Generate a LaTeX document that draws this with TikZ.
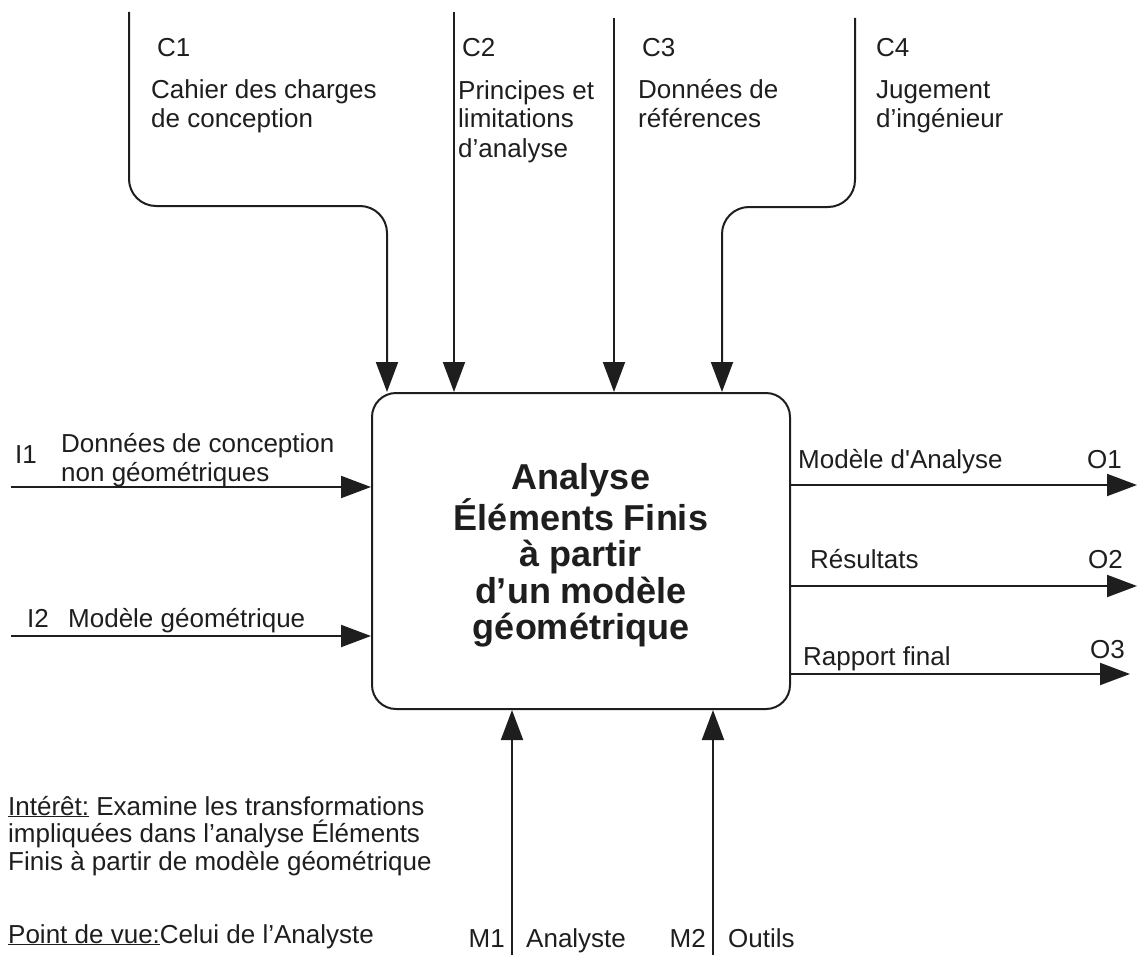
\documentclass[tikz,border=0pt]{standalone}
\usepackage{fontspec}
\setmainfont{Liberation Sans}
\usepackage{tikz}
\usetikzlibrary{positioning}
\usetikzlibrary{arrows.meta}
\usetikzlibrary{math}
\usetikzlibrary{calc}

\definecolor{ink}{HTML}{1E1E1E}

\tikzset{
  idef/.style={draw=ink, line width=2pt, -{Triangle[length=30pt,width=22pt]}},
  procbox/.style={draw=ink, line width=2pt, rounded corners=24pt,
    minimum width=418pt, minimum height=316pt, align=center, text=ink,
    font=\fontsize{36}{36.5}\selectfont\bfseries},
  lbl/.style={anchor=base west, inner sep=0pt, align=left, text=ink,
    font=\fontsize{26}{29}\selectfont},
}

\begin{document}
\begin{tikzpicture}[x=1pt,y=-1pt]

  \tikzmath{
    \bend = 27;  % radius of the bends in C1 and C4
    \base = 955; % lower edge, where M1 and M2 come in
  }

  \useasboundingbox (0,0) rectangle (1139,\base);

  % Activity box
  \node[procbox] (box) at (581,551)
    {\rule{0pt}{35pt}Analyse\\Éléments Finis\\à partir\\d’un modèle\\géométrique};

  % Controls
  \coordinate (c1top)  at (129,12);
  \coordinate (c1drop) at (387,206);
  \coordinate (c2top)  at (454,12);
  \coordinate (c3top)  at (614,18);
  \coordinate (c4top)  at (855,18);
  \coordinate (c4drop) at (722,207);

  \draw[idef, rounded corners=\bend] (c1top) -- (c1top |- c1drop) -- (c1drop)
    -- (c1drop |- box.north);
  \draw[idef] (c2top) -- (c2top |- box.north);
  \draw[idef] (c3top) -- (c3top |- box.north);
  \draw[idef, rounded corners=\bend] (c4top) -- (c4top |- c4drop) -- (c4drop)
    -- (c4drop |- box.north);

  % labels sit on the baseline of their last line
  \node[lbl] (c1id)  at (157,57)  {C1};
  \node[lbl] (c1txt) at (151,128) {Cahier des charges\\de conception};
  \node[lbl] (c2id)  at (462,57)  {C2};
  \node[lbl] (c2txt) at (458,157) {Principes et\\limitations\\d’analyse};
  \node[lbl] (c3id)  at (642,57)  {C3};
  \node[lbl] (c3txt) at (638,128) {Données de\\références};
  \node[lbl] (c4id)  at (876,57)  {C4};
  \node[lbl] (c4txt) at (876,128) {Jugement\\d’ingénieur};

  % Inputs
  \coordinate (i1start) at (11,487);
  \coordinate (i2start) at (11,636);

  \draw[idef] (i1start) -- (i1start -| box.west);
  \draw[idef] (i2start) -- (i2start -| box.west);

  \node[lbl] (i1id)  at (15,463) {I1};
  \node[lbl] (i1txt) at (61,481) {Données de conception\\non géométriques};
  \node[lbl] (i2id)  at (27,627) {I2};
  \node[lbl] (i2txt) at (68,627) {Modèle géométrique};

  % Outputs
  \coordinate (o1end) at (1137,485);
  \coordinate (o2end) at (1137,586);
  \coordinate (o3end) at (1130,674);

  \draw[idef] (o1end -| box.east) -- (o1end);
  \draw[idef] (o2end -| box.east) -- (o2end);
  \draw[idef] (o3end -| box.east) -- (o3end);

  \node[lbl] (o1txt) at (798,468) {Modèle d\textquotesingle Analyse};
  \node[lbl] (o1id)  at (1087,468) {O1};
  \node[lbl] (o2txt) at (810,568) {Résultats};
  \node[lbl] (o2id)  at (1088,568) {O2};
  \node[lbl] (o3txt) at (803,665) {Rapport final};
  \node[lbl] (o3id)  at (1090,658) {O3};

  % Mechanisms
  \coordinate (m1bot) at (512,\base);
  \coordinate (m2bot) at (713,\base);

  \draw[idef] (m1bot) -- (m1bot |- box.south);
  \draw[idef] (m2bot) -- (m2bot |- box.south);

  \node[lbl, anchor=base east] (m1id) at (505,947) {M1};
  \node[lbl] (m1txt) at (526,947) {Analyste};
  \node[lbl, anchor=base east] (m2id) at (706,947) {M2};
  \node[lbl] (m2txt) at (728,947) {Outils};

  % Notes
  \node[lbl, font=\fontsize{26}{27.5}\selectfont] (interet) at (8,870)
    {\underline{Intérêt:} Examine les transformations\\impliquées dans l’analyse Éléments\\Finis à partir de modèle géométrique};
  \node[lbl] (pdv) at (8,943) {\underline{Point de vue:}Celui de l’Analyste};

\end{tikzpicture}
\end{document}
